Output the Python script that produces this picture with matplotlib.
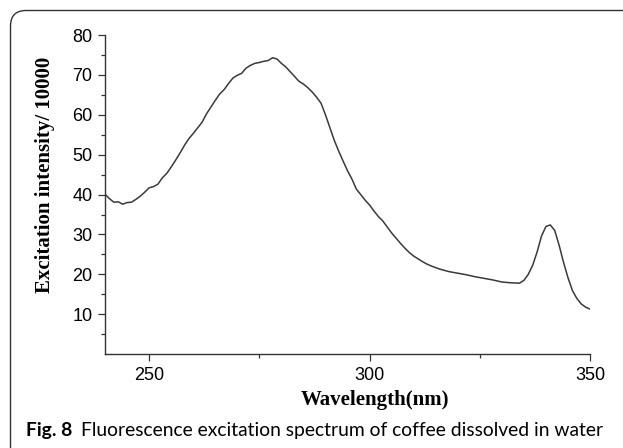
import matplotlib
matplotlib.use("Agg")
import matplotlib.pyplot as plt
from matplotlib.patches import FancyBboxPatch
from matplotlib.ticker import MultipleLocator

# wavelength (nm) and excitation intensity (/10000)
wavelength = [
    240, 241, 242, 243, 244, 245, 246, 247, 248, 249,
    250, 251, 252, 253, 254, 255, 256, 257, 258, 259,
    260, 261, 262, 263, 264, 265, 266, 267, 268, 269,
    270, 271, 272, 273, 274, 275, 276, 277, 278, 279,
    280, 281, 282, 283, 284, 285, 286, 287, 288, 289,
    290, 291, 292, 293, 294, 295, 296, 297, 298, 299,
    300, 301, 302, 303, 304, 305, 306, 307, 308, 309,
    310, 311, 312, 313, 314, 315, 316, 318, 320, 322,
    324, 326, 328, 330, 332, 334, 335, 336, 337, 338,
    339, 340, 341, 342, 343, 344, 345, 346, 347, 348,
    349, 350,
]
intensity = [
    40.1, 39.0, 38.1, 38.2, 37.6, 38.0, 38.1, 38.8, 39.6, 40.6,
    41.7, 42.0, 42.6, 44.2, 45.3, 46.9, 48.6, 50.4, 52.3, 54.0,
    55.3, 56.7, 58.1, 60.2, 61.9, 63.6, 65.2, 66.3, 67.8, 69.2,
    69.9, 70.4, 71.7, 72.4, 72.9, 73.1, 73.4, 73.6, 74.3, 74.0,
    72.9, 72.0, 70.8, 69.6, 68.4, 67.7, 66.8, 65.7, 64.4, 62.9,
    60.0, 56.8, 53.6, 50.9, 48.4, 46.0, 43.9, 41.4, 40.0, 38.6,
    37.4, 35.9, 34.5, 33.4, 31.9, 30.4, 29.1, 27.8, 26.6, 25.5,
    24.6, 23.9, 23.2, 22.6, 22.1, 21.7, 21.3, 20.7, 20.3, 19.9,
    19.4, 19.0, 18.6, 18.1, 17.9, 17.8, 18.5, 20.0, 22.3, 25.6,
    29.6, 32.0, 32.4, 31.0, 27.3, 23.0, 19.2, 16.0, 14.0, 12.6,
    11.8, 11.3,
]

x_ticks = [250, 300, 350]
y_ticks = [10, 20, 30, 40, 50, 60, 70, 80]
y_minor_ticks = [5, 15, 25, 35, 45, 55, 65, 75]

W, H = 623, 448
fig = plt.figure(figsize=(W / 100, H / 100), dpi=100)

# rounded frame around figure + caption
frame = FancyBboxPatch(
    (10.5 / W, -20 / H), (W + 40) / W, (H - 10.5 + 20) / H,
    boxstyle="round,pad=0,rounding_size=0.025",
    transform=fig.transFigure, fill=False, edgecolor="#333333", linewidth=1.0,
    mutation_aspect=W / H,
)
fig.patches.append(frame)

ax = fig.add_axes([105 / W, 1 - 354.2 / H, (590 - 105) / W, (354.2 - 35) / H])
ax.plot(wavelength, intensity, color="#3a3a3a", linewidth=1.1)

ax.set_xlim(240, 350)
ax.set_ylim(0, 80)
ax.set_xticks(x_ticks)
ax.set_yticks(y_ticks)
ax.xaxis.set_minor_locator(MultipleLocator(25))
ax.set_yticks(y_minor_ticks, minor=True)
ax.spines[["top", "right"]].set_visible(False)
for s in ("left", "bottom"):
    ax.spines[s].set_color("#333333")
    ax.spines[s].set_linewidth(1.0)

ax.tick_params(axis="both", which="major", length=5, width=0.9, color="#333333", pad=4)
ax.tick_params(axis="both", which="minor", length=3, width=0.9, color="#333333")
for lab in ax.get_xticklabels() + ax.get_yticklabels():
    lab.set_fontfamily("Liberation Sans")
    lab.set_fontsize(13)

fig.text(375 / W, 1 - 400 / H, "Wavelength(nm)", family="Liberation Serif",
         weight="bold", size=15, ha="center", va="center")
fig.text(45 / W, 1 - 175 / H, "Excitation intensity/ 10000", family="Liberation Serif",
         weight="bold", size=15, ha="center", va="center", rotation=90)

# caption
cap_y = 1 - 430 / H
t1 = fig.text(26 / W, cap_y, "Fig. 8", family="Lato", weight="bold", size=13.9,
              ha="left", va="center")
fig.canvas.draw()
bb = t1.get_window_extent()
fig.text((bb.x1 + 9) / W, cap_y,
         "Fluorescence excitation spectrum of coffee dissolved in water",
         family="Lato", size=13.9, ha="left", va="center")

fig.savefig("out.png", dpi=100)
